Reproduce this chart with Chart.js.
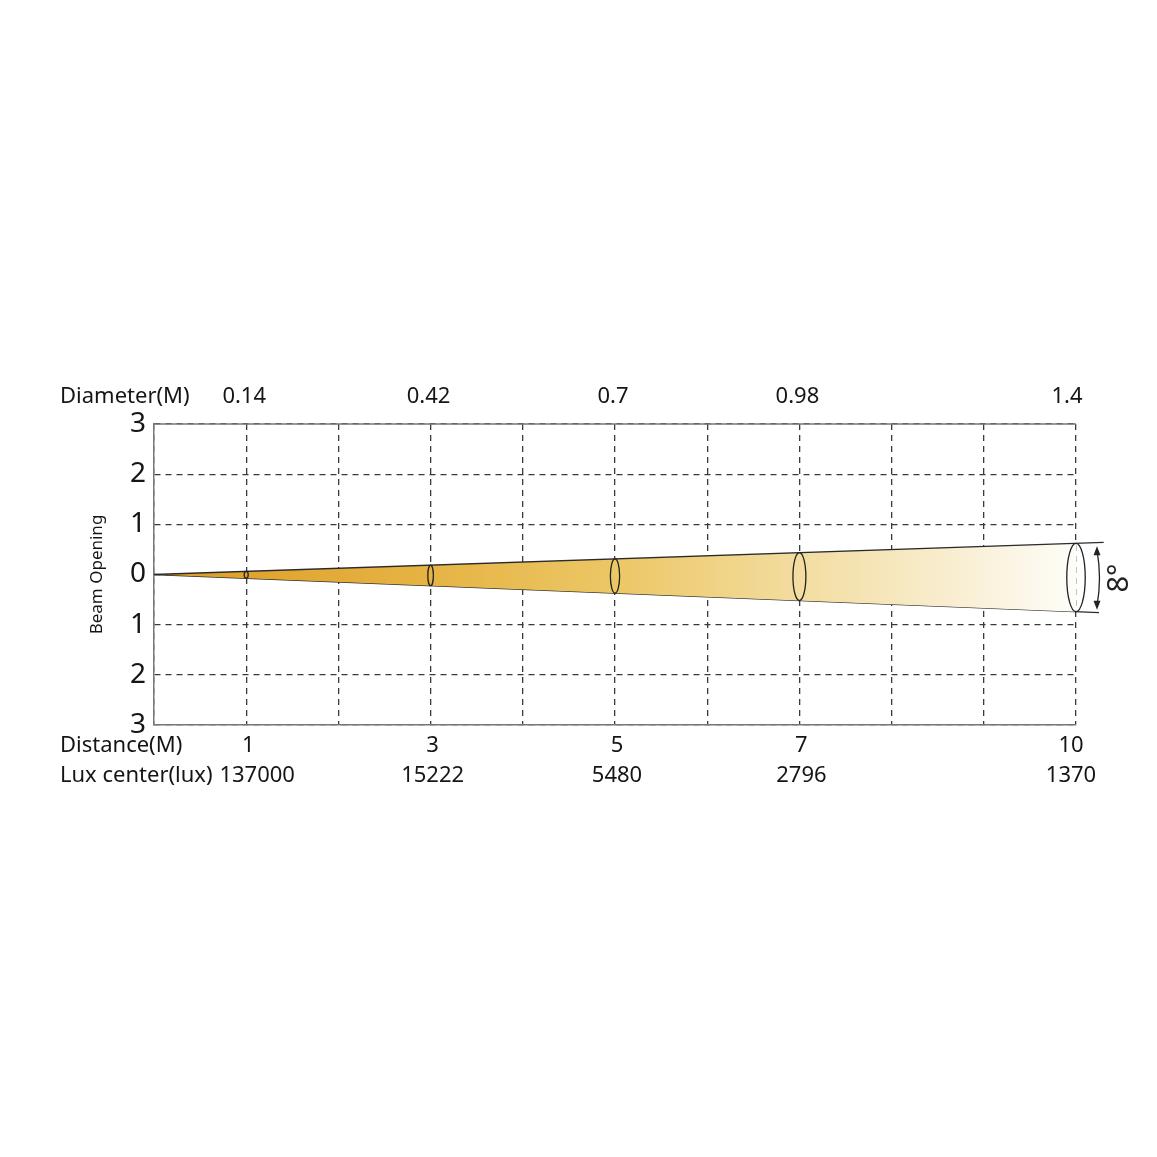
<!DOCTYPE html>
<html>
<head>
<meta charset="utf-8">
<script src="https://cdn.jsdelivr.net/npm/chart.js@4"></script>
<style>
  html, body { margin: 0; padding: 0; background: #fff; }
  #wrap { width: 1157px; height: 1157px; }
</style>
</head>
<body>
<div id="wrap"><canvas id="beam" width="1157" height="1157"></canvas></div>
<script>
// values
const distances = [1, 3, 5, 7, 10]
const diameters = ['0.14', '0.42', '0.7', '0.98', '1.4']
const luxCenter = ['137000', '15222', '5480', '2796', '1370']
const beamTop = [{x: 0, y: 0}, {x: 10.3, y: 0.64}]
const beamBottom = [{x: 0, y: 0}, {x: 10.25, y: -0.76}]
const beamAngle = '8°'

const textColor = '#151515'
const fontFamily = '"Noto Sans", "Open Sans", sans-serif'

// edge value of a 2 point line at distance d
function edgeAt(line, d) {
	const a = line[0], b = line[1]
	return a.y + (b.y - a.y) * (d - a.x) / (b.x - a.x)
}

const beamExtras = {
	id: 'beamExtras',
	afterDraw(chart) {
		const ctx = chart.ctx
		const xs = chart.scales.x, ys = chart.scales.y
		const area = chart.chartArea
		ctx.save()

		// solid top frame line
		ctx.strokeStyle = '#777'
		ctx.lineWidth = 1.5
		ctx.beginPath()
		ctx.moveTo(area.left, area.top)
		ctx.lineTo(area.right, area.top)
		ctx.stroke()

		// cross sections
		ctx.strokeStyle = '#222'
		ctx.lineWidth = 1.3
		for (let d of distances) {
			const px = xs.getPixelForValue(d)
			const t = ys.getPixelForValue(edgeAt(beamTop, d))
			const b = ys.getPixelForValue(edgeAt(beamBottom, d))
			const ry = (b - t) / 2
			const rx = Math.max(2, ry * 0.27)
			ctx.beginPath()
			ctx.ellipse(px, (t + b) / 2, rx, ry, 0, 0, Math.PI * 2)
			ctx.stroke()
		}

		// angle arrow at the far end
		const last = distances[distances.length - 1]
		const ex = xs.getPixelForValue(last)
		const et = ys.getPixelForValue(edgeAt(beamTop, last)) + 3
		const eb = ys.getPixelForValue(edgeAt(beamBottom, last)) - 2
		const ax = ex + 21
		ctx.beginPath()
		ctx.moveTo(ax, et + 4)
		ctx.quadraticCurveTo(ax + 5, (et + eb) / 2, ax, eb - 4)
		ctx.stroke()
		ctx.fillStyle = '#222'
		ctx.beginPath()
		ctx.moveTo(ax, et); ctx.lineTo(ax - 3.5, et + 9); ctx.lineTo(ax + 3.5, et + 9); ctx.closePath()
		ctx.fill()
		ctx.beginPath()
		ctx.moveTo(ax, eb); ctx.lineTo(ax - 3.5, eb - 9); ctx.lineTo(ax + 3.5, eb - 9); ctx.closePath()
		ctx.fill()

		ctx.save()
		ctx.translate(ex + 44, (et + eb) / 2)
		ctx.rotate(-Math.PI / 2)
		ctx.font = '29px ' + fontFamily
		ctx.textAlign = 'center'
		ctx.textBaseline = 'middle'
		ctx.fillText(beamAngle, 0, 0)
		ctx.restore()

		// row labels
		ctx.fillStyle = textColor
		ctx.font = '22px ' + fontFamily
		ctx.textBaseline = 'middle'
		ctx.textAlign = 'left'
		ctx.fillText('Diameter(M)', 60, 397)
		ctx.fillText('Distance(M)', 60, 746)
		ctx.fillText('Lux center(lux)', 60, 776)
		ctx.textAlign = 'center'
		distances.forEach((d, i) => {
			const px = xs.getPixelForValue(d)
			const nudge = i === distances.length - 1 ? -7 : 0
			ctx.fillText(diameters[i], px + nudge - 2, 397)
			ctx.fillText(String(d), px + nudge + 2, 746)
			ctx.fillText(luxCenter[i], px + nudge + (i === 0 ? 11 : 2), 776)
		})
		ctx.restore()
	}
}

new Chart(document.getElementById('beam'), {
	type: 'line',
	data: {
		datasets: [
			{
				data: beamTop,
				borderColor: '#2b2b2b',
				borderWidth: 1.3,
				pointRadius: 0,
				fill: '+1',
				clip: false,
				backgroundColor: function(c) {
					const chart = c.chart
					if (!chart.chartArea) return 'rgba(0,0,0,0)'
					const x0 = chart.scales.x.getPixelForValue(0)
					const x1 = chart.scales.x.getPixelForValue(10.2)
					const g = chart.ctx.createLinearGradient(x0, 0, x1, 0)
					g.addColorStop(0, '#dc9c24')
					g.addColorStop(0.3, '#e6b445')
					g.addColorStop(0.5, '#ecc868')
					g.addColorStop(0.7, '#f3dea4')
					g.addColorStop(0.88, '#faf1da')
					g.addColorStop(1, '#ffffff')
					return g
				}
			},
			{
				data: beamBottom,
				borderColor: '#2b2b2b',
				borderWidth: 1.3,
				pointRadius: 0,
				fill: false,
				clip: false
			}
		]
	},
	options: {
		responsive: false,
		animation: false,
		devicePixelRatio: 1,
		layout: { padding: { left: 0, right: 81, top: 424, bottom: 432 } },
		plugins: { legend: { display: false }, tooltip: { enabled: false } },
		scales: {
			x: {
				type: 'linear', min: 0, max: 10, z: 1,
				ticks: { display: false, stepSize: 1 },
				grid: { color: '#3a3a3a', lineWidth: 1.3, drawTicks: false },
				border: { display: true, color: '#777', width: 1.5, dash: [6, 5] },
				afterFit(s) { s.height = 0 }
			},
			y: {
				type: 'linear', min: -3, max: 3, z: 1,
				ticks: {
					stepSize: 1, padding: 8, color: textColor,
					font: { size: 28, family: fontFamily },
					callback: v => String(Math.abs(v))
				},
				grid: { color: '#3a3a3a', lineWidth: 1.3, drawTicks: false },
				border: { display: true, color: '#777', width: 1.5, dash: [6, 5] },
				title: {
					display: true, text: 'Beam Opening', color: textColor,
					font: { size: 17, family: fontFamily },
					padding: { top: 87, bottom: 0 }
				},
				afterFit(s) { s.width = 154 }
			}
		}
	},
	plugins: [beamExtras]
})
</script>
</body>
</html>
